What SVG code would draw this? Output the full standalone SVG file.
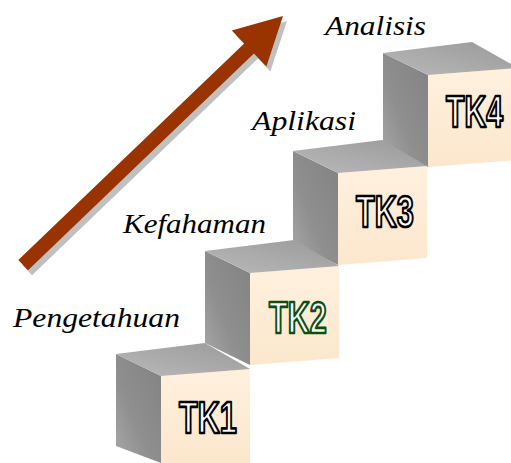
<svg xmlns="http://www.w3.org/2000/svg" width="511" height="463" viewBox="0 0 511 463">
<defs>
<linearGradient id="gFront" x1="0" y1="0" x2="0" y2="1">
<stop offset="0" stop-color="#fff0de"/>
<stop offset="1" stop-color="#fce7cd"/>
</linearGradient>
<linearGradient id="gLeft" x1="1" y1="0" x2="0" y2="1">
<stop offset="0" stop-color="#828282"/>
<stop offset="0.6" stop-color="#8f8f8f"/>
<stop offset="1" stop-color="#a9a9a9"/>
</linearGradient>
<linearGradient id="gTop" x1="1" y1="0" x2="0" y2="1">
<stop offset="0" stop-color="#9a9a9a"/>
<stop offset="1" stop-color="#b9b9b9"/>
</linearGradient>
</defs>
<style>
.front{fill:url(#gFront)}
.left{fill:url(#gLeft)}
.top{fill:url(#gTop)}
.tk{font-family:"Liberation Sans",Arial,sans-serif;font-weight:bold;font-size:45px;fill:#ffffff;stroke:#000000;stroke-width:2.7px;stroke-linejoin:round}
.lbl{font-family:"Liberation Serif","Times New Roman",serif;font-style:italic;font-size:28px;fill:#000000}
</style>
<rect width="511" height="463" fill="#ffffff"/>
<g id="connectors">
<g id="arrow">
<polygon transform="translate(287,21) rotate(-43.8)" points="0,0 -47,-25 -47,-7 -360,-7 -360,7 -47,7 -47,25" fill="#c0c0c0"/>
<polygon transform="translate(283,16) rotate(-43.8)" points="0,0 -47,-25 -47,-7 -360,-7 -360,7 -47,7 -47,25" fill="#993300"/>
</g>
</g>
<g id="step4">
<polygon class="left" points="383,53 428,75 428,167 383,145"/>
<polygon class="front" points="428,75 511,68.5 511,160.5 428,167"/>
<polygon class="top" points="383,53 472,42 511,64 511,68.5 428,75"/>
<text class="tk" transform="translate(446,127) scale(0.67,1)" x="0" y="0">TK4</text>
</g>
<g id="step3">
<polygon class="left" points="293,151 338,173 338,265 293,243"/>
<polygon class="front" points="338,173 427,166 427,258 338,265"/>
<polygon class="top" points="293,151 382,140 427,166 338,173"/>
<text class="tk" transform="translate(356,227) scale(0.68,1)" x="0" y="0">TK3</text>
</g>
<g id="step2">
<polygon class="left" points="205,251 250,273 250,365 205,343"/>
<polygon class="front" points="250,273 339,266 339,358 250,365"/>
<polygon class="top" points="205,251 294,240 339,266 250,273"/>
<text class="tk" transform="translate(269,333) scale(0.68,1)" x="0" y="0" style="stroke:#0e4f0e">TK2</text>
</g>
<g id="step1">
<polygon class="left" points="116,354 161,376 161,463 116,446"/>
<polygon class="front" points="161,376 250,369 250,463 161,463"/>
<polygon class="top" points="116,354 205,343 250,369 161,376"/>
<text class="tk" transform="translate(179,433) scale(0.68,1)" x="0" y="0">TK1</text>
</g>
<g id="labels">
<text class="lbl" x="13" y="327" textLength="167" lengthAdjust="spacingAndGlyphs">Pengetahuan</text>
<text class="lbl" x="123" y="233" textLength="143" lengthAdjust="spacingAndGlyphs">Kefahaman</text>
<text class="lbl" x="252" y="130" textLength="104" lengthAdjust="spacingAndGlyphs">Aplikasi</text>
<text class="lbl" x="325" y="35" textLength="101" lengthAdjust="spacingAndGlyphs">Analisis</text>
</g>
</svg>
